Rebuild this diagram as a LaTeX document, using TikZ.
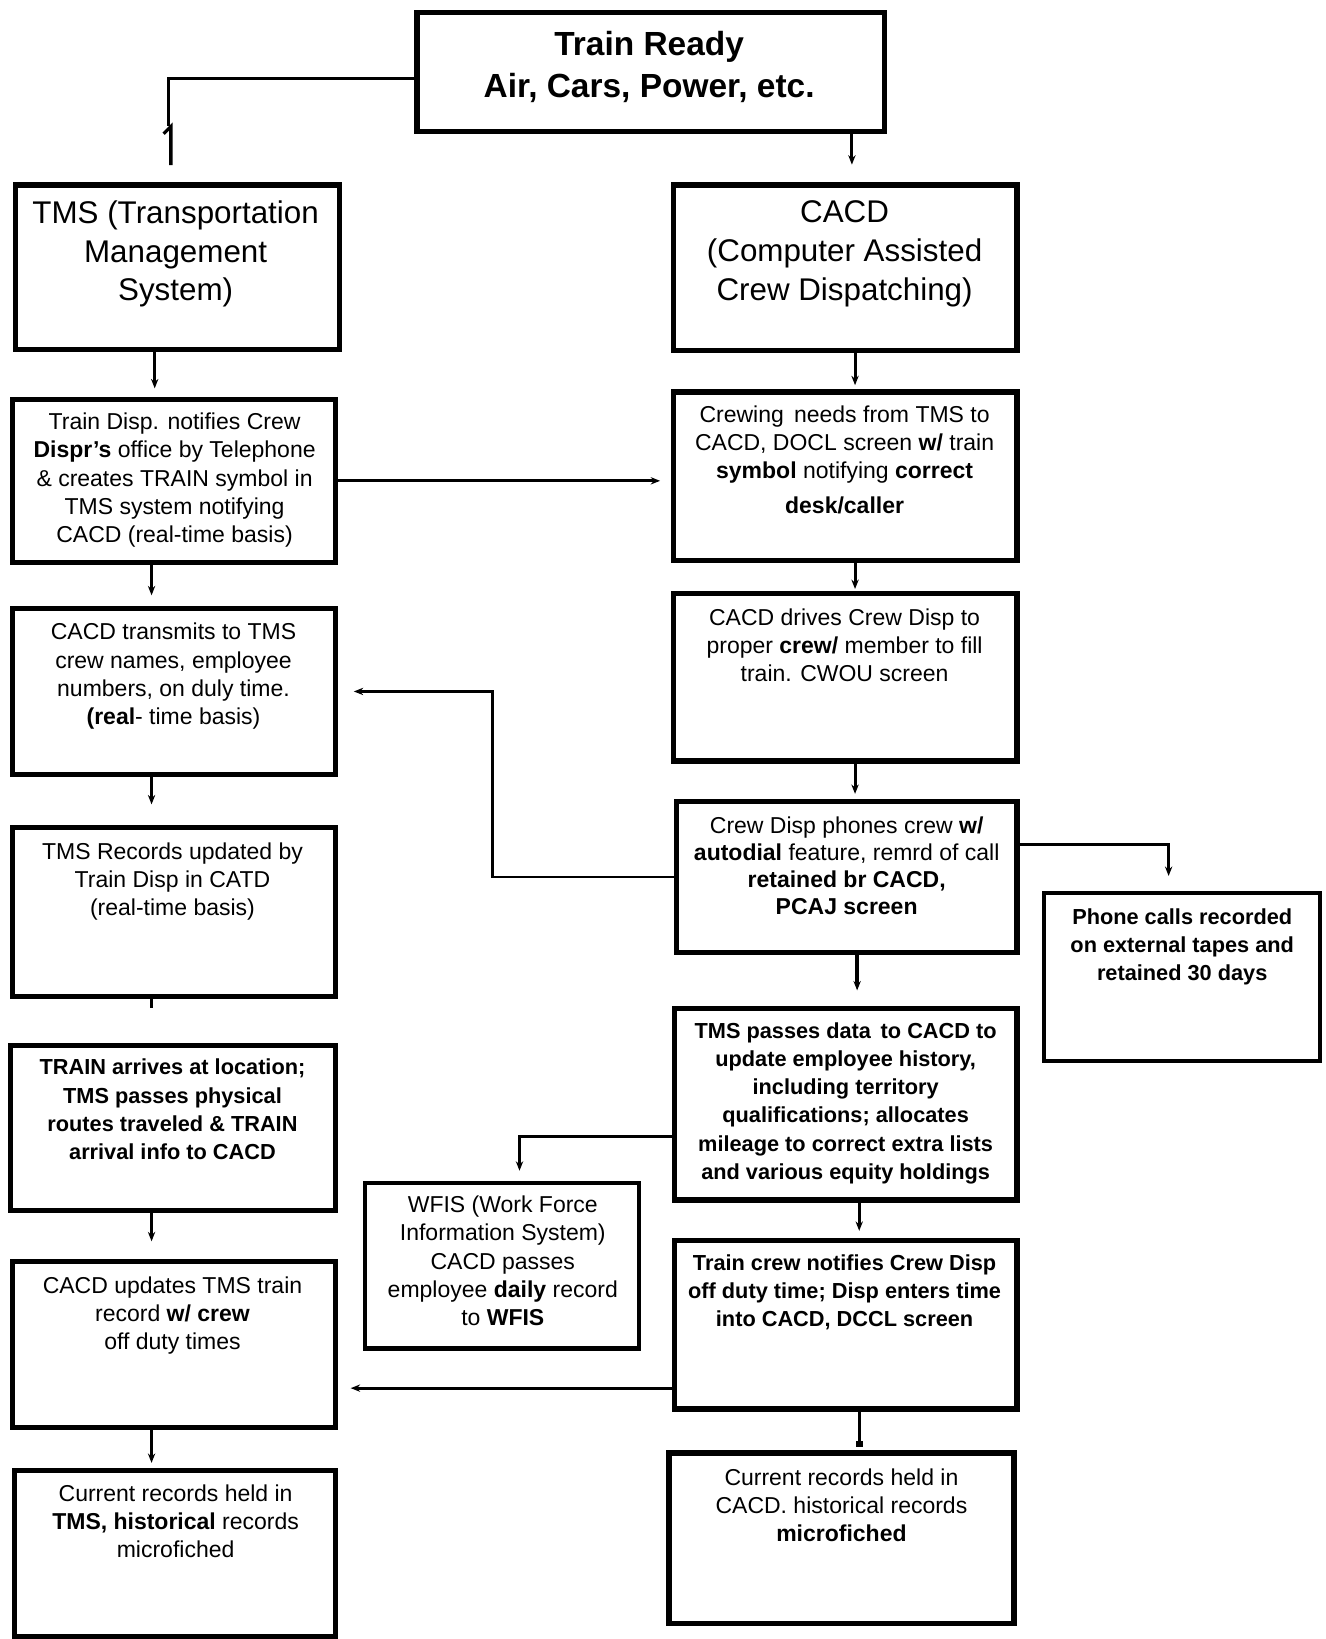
\documentclass[tikz,border=0pt]{standalone}
\usepackage{fontspec}
\setmainfont{Liberation Sans}
\usetikzlibrary{arrows.meta,calc}

\tikzset{
  box/.style={draw, line width=5pt, inner sep=0pt},
  thinbox/.style={box, line width=4pt},
  txt/.style={align=center, inner sep=0pt, anchor=north, font=\fontsize{22}{27}\selectfont},
  btxt/.style={txt, font=\fontsize{20.8}{27}\selectfont\bfseries},
  bigtxt/.style={txt, font=\fontsize{30}{37}\selectfont},
  titletxt/.style={txt, font=\fontsize{32}{40}\selectfont\bfseries},
  link/.style={line width=2.8pt},
  arr/.style={link, -{Stealth[length=9pt,width=7pt]}},
}

\begin{document}
\begin{tikzpicture}[x=1pt,y=-1pt]
\useasboundingbox[fill=white] (0,0) rectangle (1268,1568);

% ---- boxes ----
\node[box, minimum width=447pt, minimum height=114pt] (top)      at (622.5,69) {};
\node[box, minimum width=310pt, minimum height=157pt] (tms)      at (170,255.5) {};
\node[box, minimum width=329pt, minimum height=158pt] (cacd)     at (808.5,256) {};
\node[box, minimum width=309pt, minimum height=156pt] (disp)     at (166.5,460) {};
\node[box, minimum width=329pt, minimum height=161pt] (crewing)  at (808.5,455.5) {};
\node[box, minimum width=309pt, minimum height=159pt] (transmit) at (166.5,661.5) {};
\node[box, minimum width=309pt, minimum height=161pt] (records)  at (166.5,872.5) {};
\node[box, minimum width=311pt, minimum height=158pt] (arrives)  at (165.5,1079) {};
\node[box, minimum width=309pt, minimum height=159pt] (updates)  at (166.5,1286.5) {};
\node[box, minimum width=307pt, minimum height=159pt] (curtms)   at (167.5,1486.5) {};
\node[box, minimum width=329pt, minimum height=160pt] (drives)   at (808.5,648) {};
\node[box, minimum width=326pt, minimum height=144pt] (phones)   at (810,839) {};
\node[thinbox, minimum width=264pt, minimum height=161pt] (calls) at (1131,934.5) {};
\node[box, minimum width=328pt, minimum height=183pt] (passes)   at (809,1056.5) {};
\node[thinbox, minimum width=262pt, minimum height=158pt] (wfis) at (480,1211) {};
\node[box, minimum width=328pt, minimum height=161pt] (crewoff)  at (809,1267.5) {};
\node[box, minimum width=330pt, minimum height=163pt] (curcacd)  at (805,1471.5) {};

% ---- box texts ----
\node[titletxt] (topT) at (621,30) {Train Ready\\Air, Cars, Power, etc.};
\node[bigtxt] (tmsT) at (168,192) {TMS (Transportation\\Management\\System)};
\node[bigtxt] (cacdT) at (808,192) {CACD\\(Computer Assisted\\Crew Dispatching)};
\node[txt] (dispT) at (167,395) {Train Disp. notifies Crew\\\textbf{Dispr's} office by Telephone\\\& creates TRAIN symbol in\\TMS system notifying\\CACD (real-time basis)};
\node[txt] (crewingT) at (808,388) {Crewing\, needs from TMS to\\CACD, DOCL screen \textbf{w/} train\\\textbf{symbol} notifying \textbf{correct}\\[6pt]\textbf{desk/caller}};
\node[txt] (transmitT) at (166,596) {CACD transmits to TMS\\crew names, employee\\numbers, on duly time.\\\textbf{(real}- time basis)};
\node[txt] (recordsT) at (165,806) {TMS Records updated by\\Train Disp in CATD\\(real-time basis)};
\node[btxt] (arrivesT) at (165,1013) {TRAIN arrives at location;\\TMS passes physical\\routes traveled \& TRAIN\\arrival info to CACD};
\node[txt] (updatesT) at (165,1221) {CACD updates TMS train\\record \textbf{w/ crew}\\off duty times};
\node[txt] (curtmsT) at (168,1420) {Current records held in\\\textbf{TMS, historical} records\\microfiched};
\node[txt] (drivesT) at (808,582) {CACD drives Crew Disp to\\proper \textbf{crew/} member to fill\\train. CWOU screen};
\node[txt, font=\fontsize{22}{26}\selectfont] (phonesT) at (810,781) {Crew Disp phones crew \textbf{w/}\\\textbf{autodial} feature, remrd of call\\\textbf{retained br CACD,}\\\textbf{PCAJ screen}};
\node[btxt] (callsT) at (1131,869) {Phone calls recorded\\on external tapes and\\retained 30 days};
\node[btxt] (passesT) at (809,978) {TMS passes data\, to CACD to\\update employee history,\\including territory\\qualifications; allocates\\mileage to correct extra lists\\and various equity holdings};
\node[txt] (wfisT) at (481,1144) {WFIS (Work Force\\Information System)\\CACD passes\\employee \textbf{daily} record\\to \textbf{WFIS}};
\node[btxt] (crewoffT) at (808,1200) {Train crew notifies Crew Disp\\off duty time; Disp enters time\\into CACD, DCCL screen};
\node[txt] (curcacdT) at (805,1405) {Current records held in\\CACD. historical records\\\textbf{microfiched}};

% ---- connectors ----
% Train Ready feeds the TMS column through an elbow, ending in a short flagged stem
\coordinate (tmsBend) at (161,121);
\coordinate (tmsIn) at (163.5,158);
\draw[link] ([yshift=-6pt]top.west) -| (tmsBend);
\draw[line width=3.2pt] (tmsIn) -- ++(0,-37) -- ++(-7,7);
\draw[arr, shorten >=17pt] ([xshift=192.5pt]top.south) -- ([xshift=6.5pt]cacd.north);

% left column
\draw[arr, shorten >=8pt]  ([xshift=-22pt]tms.south) -- ([xshift=-18.5pt]disp.north);
\draw[arr, shorten >=10pt] ([xshift=-21.5pt]disp.south) -- ([xshift=-21.5pt]transmit.north);
\draw[arr, shorten >=20pt] ([xshift=-21.5pt]transmit.south) -- ([xshift=-21.5pt]records.north);
\draw[link, shorten >=33pt] ([xshift=-21.5pt]records.south) -- ([xshift=-20.5pt]arrives.north);
\draw[arr, shorten >=17pt] ([xshift=-20.5pt]arrives.south) -- ([xshift=-21.5pt]updates.north);
\draw[arr, shorten >=5pt]  ([xshift=-21.5pt]updates.south) -- ([xshift=-22.5pt]curtms.north);

% right column
\draw[arr, shorten >=4pt]  ([xshift=9.5pt]cacd.south) -- ([xshift=9.5pt]crewing.north);
\draw[arr, shorten >=2pt]  ([xshift=9.5pt]crewing.south) -- ([xshift=9.5pt]drives.north);
\draw[arr, shorten >=5pt]  ([xshift=9.5pt]drives.south) -- ([xshift=8pt]phones.north);
\draw[arr, line width=3.5pt, shorten >=15pt] ([xshift=10pt]phones.south) -- ([xshift=11pt]passes.north);
\draw[arr, shorten >=7pt]  ([xshift=13pt]passes.south) -- ([xshift=13pt]crewoff.north);
\draw[link, -{Square[length=6pt,width=7pt]}, shorten >=3pt] ([xshift=13pt]crewoff.south) -- ([xshift=17pt]curcacd.north);

% cross links
\draw[arr, shorten >=10pt] (disp.east) -- (disp.east -| crewing.west);
\coordinate (jog) at (471,0);
\draw[arr, shorten >=15pt] (phones.west) -| (jog |- transmit.east) -- (transmit.east);
\draw[arr, shorten >=14pt] ([yshift=31pt]phones.east) -| ([xshift=-13pt]calls.north);
\draw[arr, shorten >=10pt] ([yshift=-30.5pt]passes.west) -| ([xshift=17pt]wfis.north);
\coordinate (offOut) at ([yshift=-60.5pt]crewoff.west);
\draw[arr, shorten >=12pt] (offOut) -- (offOut -| updates.east);
\end{tikzpicture}
\end{document}
